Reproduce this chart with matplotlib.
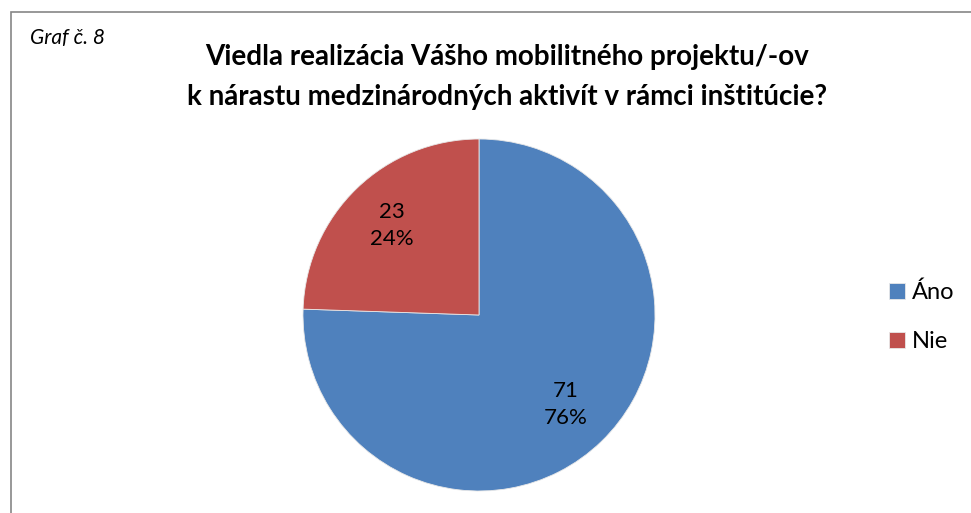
import matplotlib
matplotlib.use("Agg")
import matplotlib.pyplot as plt
from matplotlib.patches import Rectangle

# Data
labels = ["Áno", "Nie"]
counts = [71, 23]
colors = ["#4F81BD", "#C0504D"]

title_lines = [
    "Viedla realizácia Vášho mobilitného projektu/-ov",
    "k nárastu medzinárodných aktivít v rámci inštitúcie?"
]
caption = "Graf č. 8"

plt.rcParams["font.family"] = ["Lato", "DejaVu Sans"]

W, H = 971, 513
fig = plt.figure(figsize=(W / 100, H / 100), dpi=100)

# Chart frame (cropped on right and bottom)
fig.patches.append(
    Rectangle(
        (10.5 / W, -0.1),
        1.2,
        1.1 - 12.5 / H,
        transform=fig.transFigure,
        fill=False,
        edgecolor="#868686",
        linewidth=1.2
    )
)

# Pie axes
cx, cy, r = 479, 315, 176
ax = fig.add_axes([
    (cx - r) / W,
    (H - cy - r) / H,
    2 * r / W,
    2 * r / H
])

total = sum(counts)


def fmt(pct):
    val = int(round(pct * total / 100.0))
    return f"{val}\n{pct:.0f}%"


wedges, texts, autotexts = ax.pie(
    counts,
    colors=colors,
    startangle=90,
    counterclock=False,
    autopct=fmt,
    pctdistance=0.71,
    wedgeprops=dict(edgecolor="#e8e8e8", linewidth=0.6),
    textprops=dict(fontsize=16, color="black", linespacing=1.45)
)
ax.set_xlim(-1, 1)
ax.set_ylim(-1, 1)
ax.set_aspect("equal")
ax.axis("off")

# Title
fig.text(
    507 / W, 1 - 57 / H, title_lines[0],
    ha="center", va="center", fontsize=20, fontweight="bold"
)
fig.text(
    507 / W, 1 - 97 / H, title_lines[1],
    ha="center", va="center", fontsize=20, fontweight="bold"
)

# Caption
fig.text(
    30 / W, 1 - 38 / H, caption,
    ha="left", va="center", fontsize=15, fontstyle="italic"
)

# Legend
fig.legend(
    wedges,
    labels,
    loc="center left",
    bbox_to_anchor=(868 / W, 1 - 317 / H),
    frameon=False,
    fontsize=17,
    handlelength=0.65,
    handleheight=0.65,
    handletextpad=0.3,
    labelspacing=1.2
)

fig.savefig("out.png", dpi=100)
